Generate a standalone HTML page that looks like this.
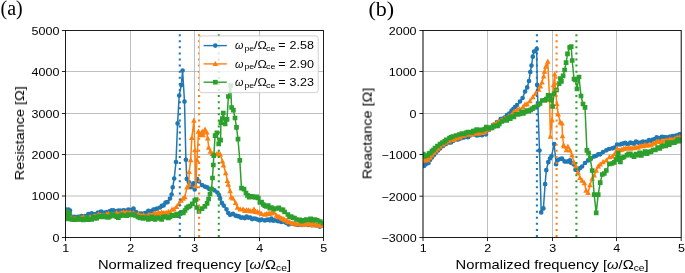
<!DOCTYPE html>
<html><head><meta charset="utf-8"><title>Figure</title>
<style>html,body{margin:0;padding:0;background:#fff;overflow:hidden}svg{display:block}
</style></head>
<body>
<svg width="685" height="273" viewBox="0 0 685 273">
<defs><clipPath id="ca"><rect x="65.5" y="30.5" width="258.0" height="207.0"/></clipPath><clipPath id="cb"><rect x="423.0" y="30.5" width="258.20000000000005" height="207.0"/></clipPath></defs>
<rect width="685" height="273" fill="#fff"/>
<g stroke="#b0b0b0" stroke-width="0.8"><line x1="65.5" y1="30.5" x2="65.5" y2="237.5"/><line x1="130.5" y1="30.5" x2="130.5" y2="237.5"/><line x1="194.5" y1="30.5" x2="194.5" y2="237.5"/><line x1="259.5" y1="30.5" x2="259.5" y2="237.5"/><line x1="323.5" y1="30.5" x2="323.5" y2="237.5"/><line x1="65.5" y1="237.5" x2="323.5" y2="237.5"/><line x1="65.5" y1="196" x2="323.5" y2="196"/><line x1="65.5" y1="154.5" x2="323.5" y2="154.5"/><line x1="65.5" y1="113.5" x2="323.5" y2="113.5"/><line x1="65.5" y1="71.5" x2="323.5" y2="71.5"/><line x1="65.5" y1="30.5" x2="323.5" y2="30.5"/></g>
<g clip-path="url(#ca)">
<polyline fill="none" stroke="#1f77b4" stroke-width="1.5" stroke-linejoin="round" points="65.5,210 67,209.5 68.5,209.5 70,210.5 71.2,216.5 72.5,218 74.25,216.82 76,217 78,216.86 80,216.5 81.67,216 83.33,216.44 85,216 86.67,215.99 88.33,214.2 90,215 91.67,213.4 93.33,215.21 95,214 98,212.5 101,211.5 104,212.5 107,212 110,211 111.67,210.37 113.33,210.31 115,211 116.67,212.12 118.33,210.59 120,210.5 121.67,211.37 123.33,210.44 125,210.5 126.67,210.86 128.33,209.59 130,210.5 131.75,209.95 133.5,208.7 136,212 138,213.81 140,213.7 141.67,213.53 143.33,213.86 145,213 146.67,212.95 148.33,210.87 150,211.5 151.7,211.17 153.4,209.5 155.2,209.29 157,208.6 160,207.5 161.8,205.93 163.6,205.4 165.55,202.58 167.5,202.2 170,198.5 171.6,194.5 172.7,187.3 174.2,178.5 176,162 177.6,123.4 179.2,95.5 181.3,85 182.6,70.5 184.5,101.6 185.9,159.8 186.8,178.9 188.8,182.1 190.7,187.2 193.3,183.4 194.7,189.5 197.1,179 199,181.5 202,185.1 204.9,186.6 207.1,187.3 209.3,189 211.5,188.8 214.4,190.3 217.4,192.5 219,195 220.1,198.3 221.9,202.9 223.7,205.6 226.5,209.3 228.3,213 230.1,214.8 232.9,213.9 235.6,215.7 237.45,216.08 239.3,216.6 241.15,217.62 243,217.5 244.8,218.03 246.6,216.6 248.45,217.61 250.3,217.5 252.15,219.09 254,218.5 255.8,218.73 257.6,219.5 259.6,220.33 261.6,219.6 264.9,220.4 266.55,219.86 268.2,219.6 269.85,220.28 271.5,218.7 273.15,220.54 274.8,220.4 278,221.2 279.65,220.55 281.3,222 282.97,221.35 284.63,221.86 286.3,222.9 288.75,224.51 291.2,223.7 293.6,223.93 296,224.5 298,225 300,224.32 302,225 304,225.02 306,224.7 308,225 310,224.61 312,225.22 314,225 316,225.47 318,225.5 319.77,226.55 321.53,225.97 323.3,225.5"/><path fill="#1f77b4" d="M63.15 210a2.35 2.35 0 1 0 4.7 0a2.35 2.35 0 1 0 -4.7 0M64.65 209.5a2.35 2.35 0 1 0 4.7 0a2.35 2.35 0 1 0 -4.7 0M66.15 209.5a2.35 2.35 0 1 0 4.7 0a2.35 2.35 0 1 0 -4.7 0M67.65 210.5a2.35 2.35 0 1 0 4.7 0a2.35 2.35 0 1 0 -4.7 0M68.85 216.5a2.35 2.35 0 1 0 4.7 0a2.35 2.35 0 1 0 -4.7 0M70.15 218a2.35 2.35 0 1 0 4.7 0a2.35 2.35 0 1 0 -4.7 0M71.9 216.82a2.35 2.35 0 1 0 4.7 0a2.35 2.35 0 1 0 -4.7 0M73.65 217a2.35 2.35 0 1 0 4.7 0a2.35 2.35 0 1 0 -4.7 0M75.65 216.86a2.35 2.35 0 1 0 4.7 0a2.35 2.35 0 1 0 -4.7 0M77.65 216.5a2.35 2.35 0 1 0 4.7 0a2.35 2.35 0 1 0 -4.7 0M79.32 216a2.35 2.35 0 1 0 4.7 0a2.35 2.35 0 1 0 -4.7 0M80.98 216.44a2.35 2.35 0 1 0 4.7 0a2.35 2.35 0 1 0 -4.7 0M82.65 216a2.35 2.35 0 1 0 4.7 0a2.35 2.35 0 1 0 -4.7 0M84.32 215.99a2.35 2.35 0 1 0 4.7 0a2.35 2.35 0 1 0 -4.7 0M85.98 214.2a2.35 2.35 0 1 0 4.7 0a2.35 2.35 0 1 0 -4.7 0M87.65 215a2.35 2.35 0 1 0 4.7 0a2.35 2.35 0 1 0 -4.7 0M89.32 213.4a2.35 2.35 0 1 0 4.7 0a2.35 2.35 0 1 0 -4.7 0M90.98 215.21a2.35 2.35 0 1 0 4.7 0a2.35 2.35 0 1 0 -4.7 0M92.65 214a2.35 2.35 0 1 0 4.7 0a2.35 2.35 0 1 0 -4.7 0M95.65 212.5a2.35 2.35 0 1 0 4.7 0a2.35 2.35 0 1 0 -4.7 0M98.65 211.5a2.35 2.35 0 1 0 4.7 0a2.35 2.35 0 1 0 -4.7 0M101.65 212.5a2.35 2.35 0 1 0 4.7 0a2.35 2.35 0 1 0 -4.7 0M104.65 212a2.35 2.35 0 1 0 4.7 0a2.35 2.35 0 1 0 -4.7 0M107.65 211a2.35 2.35 0 1 0 4.7 0a2.35 2.35 0 1 0 -4.7 0M109.32 210.37a2.35 2.35 0 1 0 4.7 0a2.35 2.35 0 1 0 -4.7 0M110.98 210.31a2.35 2.35 0 1 0 4.7 0a2.35 2.35 0 1 0 -4.7 0M112.65 211a2.35 2.35 0 1 0 4.7 0a2.35 2.35 0 1 0 -4.7 0M114.32 212.12a2.35 2.35 0 1 0 4.7 0a2.35 2.35 0 1 0 -4.7 0M115.98 210.59a2.35 2.35 0 1 0 4.7 0a2.35 2.35 0 1 0 -4.7 0M117.65 210.5a2.35 2.35 0 1 0 4.7 0a2.35 2.35 0 1 0 -4.7 0M119.32 211.37a2.35 2.35 0 1 0 4.7 0a2.35 2.35 0 1 0 -4.7 0M120.98 210.44a2.35 2.35 0 1 0 4.7 0a2.35 2.35 0 1 0 -4.7 0M122.65 210.5a2.35 2.35 0 1 0 4.7 0a2.35 2.35 0 1 0 -4.7 0M124.32 210.86a2.35 2.35 0 1 0 4.7 0a2.35 2.35 0 1 0 -4.7 0M125.98 209.59a2.35 2.35 0 1 0 4.7 0a2.35 2.35 0 1 0 -4.7 0M127.65 210.5a2.35 2.35 0 1 0 4.7 0a2.35 2.35 0 1 0 -4.7 0M129.4 209.95a2.35 2.35 0 1 0 4.7 0a2.35 2.35 0 1 0 -4.7 0M131.15 208.7a2.35 2.35 0 1 0 4.7 0a2.35 2.35 0 1 0 -4.7 0M133.65 212a2.35 2.35 0 1 0 4.7 0a2.35 2.35 0 1 0 -4.7 0M135.65 213.81a2.35 2.35 0 1 0 4.7 0a2.35 2.35 0 1 0 -4.7 0M137.65 213.7a2.35 2.35 0 1 0 4.7 0a2.35 2.35 0 1 0 -4.7 0M139.32 213.53a2.35 2.35 0 1 0 4.7 0a2.35 2.35 0 1 0 -4.7 0M140.98 213.86a2.35 2.35 0 1 0 4.7 0a2.35 2.35 0 1 0 -4.7 0M142.65 213a2.35 2.35 0 1 0 4.7 0a2.35 2.35 0 1 0 -4.7 0M144.32 212.95a2.35 2.35 0 1 0 4.7 0a2.35 2.35 0 1 0 -4.7 0M145.98 210.87a2.35 2.35 0 1 0 4.7 0a2.35 2.35 0 1 0 -4.7 0M147.65 211.5a2.35 2.35 0 1 0 4.7 0a2.35 2.35 0 1 0 -4.7 0M149.35 211.17a2.35 2.35 0 1 0 4.7 0a2.35 2.35 0 1 0 -4.7 0M151.05 209.5a2.35 2.35 0 1 0 4.7 0a2.35 2.35 0 1 0 -4.7 0M152.85 209.29a2.35 2.35 0 1 0 4.7 0a2.35 2.35 0 1 0 -4.7 0M154.65 208.6a2.35 2.35 0 1 0 4.7 0a2.35 2.35 0 1 0 -4.7 0M157.65 207.5a2.35 2.35 0 1 0 4.7 0a2.35 2.35 0 1 0 -4.7 0M159.45 205.93a2.35 2.35 0 1 0 4.7 0a2.35 2.35 0 1 0 -4.7 0M161.25 205.4a2.35 2.35 0 1 0 4.7 0a2.35 2.35 0 1 0 -4.7 0M163.2 202.58a2.35 2.35 0 1 0 4.7 0a2.35 2.35 0 1 0 -4.7 0M165.15 202.2a2.35 2.35 0 1 0 4.7 0a2.35 2.35 0 1 0 -4.7 0M167.65 198.5a2.35 2.35 0 1 0 4.7 0a2.35 2.35 0 1 0 -4.7 0M169.25 194.5a2.35 2.35 0 1 0 4.7 0a2.35 2.35 0 1 0 -4.7 0M170.35 187.3a2.35 2.35 0 1 0 4.7 0a2.35 2.35 0 1 0 -4.7 0M171.85 178.5a2.35 2.35 0 1 0 4.7 0a2.35 2.35 0 1 0 -4.7 0M173.65 162a2.35 2.35 0 1 0 4.7 0a2.35 2.35 0 1 0 -4.7 0M175.25 123.4a2.35 2.35 0 1 0 4.7 0a2.35 2.35 0 1 0 -4.7 0M176.85 95.5a2.35 2.35 0 1 0 4.7 0a2.35 2.35 0 1 0 -4.7 0M178.95 85a2.35 2.35 0 1 0 4.7 0a2.35 2.35 0 1 0 -4.7 0M180.25 70.5a2.35 2.35 0 1 0 4.7 0a2.35 2.35 0 1 0 -4.7 0M182.15 101.6a2.35 2.35 0 1 0 4.7 0a2.35 2.35 0 1 0 -4.7 0M183.55 159.8a2.35 2.35 0 1 0 4.7 0a2.35 2.35 0 1 0 -4.7 0M184.45 178.9a2.35 2.35 0 1 0 4.7 0a2.35 2.35 0 1 0 -4.7 0M186.45 182.1a2.35 2.35 0 1 0 4.7 0a2.35 2.35 0 1 0 -4.7 0M188.35 187.2a2.35 2.35 0 1 0 4.7 0a2.35 2.35 0 1 0 -4.7 0M190.95 183.4a2.35 2.35 0 1 0 4.7 0a2.35 2.35 0 1 0 -4.7 0M192.35 189.5a2.35 2.35 0 1 0 4.7 0a2.35 2.35 0 1 0 -4.7 0M194.75 179a2.35 2.35 0 1 0 4.7 0a2.35 2.35 0 1 0 -4.7 0M196.65 181.5a2.35 2.35 0 1 0 4.7 0a2.35 2.35 0 1 0 -4.7 0M199.65 185.1a2.35 2.35 0 1 0 4.7 0a2.35 2.35 0 1 0 -4.7 0M202.55 186.6a2.35 2.35 0 1 0 4.7 0a2.35 2.35 0 1 0 -4.7 0M204.75 187.3a2.35 2.35 0 1 0 4.7 0a2.35 2.35 0 1 0 -4.7 0M206.95 189a2.35 2.35 0 1 0 4.7 0a2.35 2.35 0 1 0 -4.7 0M209.15 188.8a2.35 2.35 0 1 0 4.7 0a2.35 2.35 0 1 0 -4.7 0M212.05 190.3a2.35 2.35 0 1 0 4.7 0a2.35 2.35 0 1 0 -4.7 0M215.05 192.5a2.35 2.35 0 1 0 4.7 0a2.35 2.35 0 1 0 -4.7 0M216.65 195a2.35 2.35 0 1 0 4.7 0a2.35 2.35 0 1 0 -4.7 0M217.75 198.3a2.35 2.35 0 1 0 4.7 0a2.35 2.35 0 1 0 -4.7 0M219.55 202.9a2.35 2.35 0 1 0 4.7 0a2.35 2.35 0 1 0 -4.7 0M221.35 205.6a2.35 2.35 0 1 0 4.7 0a2.35 2.35 0 1 0 -4.7 0M224.15 209.3a2.35 2.35 0 1 0 4.7 0a2.35 2.35 0 1 0 -4.7 0M225.95 213a2.35 2.35 0 1 0 4.7 0a2.35 2.35 0 1 0 -4.7 0M227.75 214.8a2.35 2.35 0 1 0 4.7 0a2.35 2.35 0 1 0 -4.7 0M230.55 213.9a2.35 2.35 0 1 0 4.7 0a2.35 2.35 0 1 0 -4.7 0M233.25 215.7a2.35 2.35 0 1 0 4.7 0a2.35 2.35 0 1 0 -4.7 0M235.1 216.08a2.35 2.35 0 1 0 4.7 0a2.35 2.35 0 1 0 -4.7 0M236.95 216.6a2.35 2.35 0 1 0 4.7 0a2.35 2.35 0 1 0 -4.7 0M238.8 217.62a2.35 2.35 0 1 0 4.7 0a2.35 2.35 0 1 0 -4.7 0M240.65 217.5a2.35 2.35 0 1 0 4.7 0a2.35 2.35 0 1 0 -4.7 0M242.45 218.03a2.35 2.35 0 1 0 4.7 0a2.35 2.35 0 1 0 -4.7 0M244.25 216.6a2.35 2.35 0 1 0 4.7 0a2.35 2.35 0 1 0 -4.7 0M246.1 217.61a2.35 2.35 0 1 0 4.7 0a2.35 2.35 0 1 0 -4.7 0M247.95 217.5a2.35 2.35 0 1 0 4.7 0a2.35 2.35 0 1 0 -4.7 0M249.8 219.09a2.35 2.35 0 1 0 4.7 0a2.35 2.35 0 1 0 -4.7 0M251.65 218.5a2.35 2.35 0 1 0 4.7 0a2.35 2.35 0 1 0 -4.7 0M253.45 218.73a2.35 2.35 0 1 0 4.7 0a2.35 2.35 0 1 0 -4.7 0M255.25 219.5a2.35 2.35 0 1 0 4.7 0a2.35 2.35 0 1 0 -4.7 0M257.25 220.33a2.35 2.35 0 1 0 4.7 0a2.35 2.35 0 1 0 -4.7 0M259.25 219.6a2.35 2.35 0 1 0 4.7 0a2.35 2.35 0 1 0 -4.7 0M262.55 220.4a2.35 2.35 0 1 0 4.7 0a2.35 2.35 0 1 0 -4.7 0M264.2 219.86a2.35 2.35 0 1 0 4.7 0a2.35 2.35 0 1 0 -4.7 0M265.85 219.6a2.35 2.35 0 1 0 4.7 0a2.35 2.35 0 1 0 -4.7 0M267.5 220.28a2.35 2.35 0 1 0 4.7 0a2.35 2.35 0 1 0 -4.7 0M269.15 218.7a2.35 2.35 0 1 0 4.7 0a2.35 2.35 0 1 0 -4.7 0M270.8 220.54a2.35 2.35 0 1 0 4.7 0a2.35 2.35 0 1 0 -4.7 0M272.45 220.4a2.35 2.35 0 1 0 4.7 0a2.35 2.35 0 1 0 -4.7 0M275.65 221.2a2.35 2.35 0 1 0 4.7 0a2.35 2.35 0 1 0 -4.7 0M277.3 220.55a2.35 2.35 0 1 0 4.7 0a2.35 2.35 0 1 0 -4.7 0M278.95 222a2.35 2.35 0 1 0 4.7 0a2.35 2.35 0 1 0 -4.7 0M280.62 221.35a2.35 2.35 0 1 0 4.7 0a2.35 2.35 0 1 0 -4.7 0M282.28 221.86a2.35 2.35 0 1 0 4.7 0a2.35 2.35 0 1 0 -4.7 0M283.95 222.9a2.35 2.35 0 1 0 4.7 0a2.35 2.35 0 1 0 -4.7 0M286.4 224.51a2.35 2.35 0 1 0 4.7 0a2.35 2.35 0 1 0 -4.7 0M288.85 223.7a2.35 2.35 0 1 0 4.7 0a2.35 2.35 0 1 0 -4.7 0M291.25 223.93a2.35 2.35 0 1 0 4.7 0a2.35 2.35 0 1 0 -4.7 0M293.65 224.5a2.35 2.35 0 1 0 4.7 0a2.35 2.35 0 1 0 -4.7 0M295.65 225a2.35 2.35 0 1 0 4.7 0a2.35 2.35 0 1 0 -4.7 0M297.65 224.32a2.35 2.35 0 1 0 4.7 0a2.35 2.35 0 1 0 -4.7 0M299.65 225a2.35 2.35 0 1 0 4.7 0a2.35 2.35 0 1 0 -4.7 0M301.65 225.02a2.35 2.35 0 1 0 4.7 0a2.35 2.35 0 1 0 -4.7 0M303.65 224.7a2.35 2.35 0 1 0 4.7 0a2.35 2.35 0 1 0 -4.7 0M305.65 225a2.35 2.35 0 1 0 4.7 0a2.35 2.35 0 1 0 -4.7 0M307.65 224.61a2.35 2.35 0 1 0 4.7 0a2.35 2.35 0 1 0 -4.7 0M309.65 225.22a2.35 2.35 0 1 0 4.7 0a2.35 2.35 0 1 0 -4.7 0M311.65 225a2.35 2.35 0 1 0 4.7 0a2.35 2.35 0 1 0 -4.7 0M313.65 225.47a2.35 2.35 0 1 0 4.7 0a2.35 2.35 0 1 0 -4.7 0M315.65 225.5a2.35 2.35 0 1 0 4.7 0a2.35 2.35 0 1 0 -4.7 0M317.42 226.55a2.35 2.35 0 1 0 4.7 0a2.35 2.35 0 1 0 -4.7 0M319.18 225.97a2.35 2.35 0 1 0 4.7 0a2.35 2.35 0 1 0 -4.7 0M320.95 225.5a2.35 2.35 0 1 0 4.7 0a2.35 2.35 0 1 0 -4.7 0"/>
<polyline fill="none" stroke="#ff7f0e" stroke-width="1.5" stroke-linejoin="round" points="65.5,212.5 67,212 68.5,213 70,214 71.2,218 73.1,219.37 75,218.5 76.67,219.26 78.33,219.44 80,218 81.67,218.28 83.33,216.79 85,217.5 86.67,218.27 88.33,218.37 90,217 91.67,217.72 93.33,216.51 95,216 96.67,216.22 98.33,214.58 100,215 101.67,216.03 103.33,215.52 105,215.5 106.67,214.61 108.33,213.7 110,214.5 111.67,215.25 113.33,215.44 115,214 116.67,212.76 118.33,214.45 120,213.5 121.67,213.1 123.33,212.26 125,213 126.67,212.33 128.33,213.43 130,212.6 131.67,214.2 133.33,212.68 135,214.5 136.67,215.13 138.33,213.98 140,215.5 141.67,215.98 143.33,214.89 145,216.24 146.67,216.42 148.33,215.1 150,215 151.67,216.05 153.33,214.01 155,213.15 156.67,214.26 158.33,212.53 160,213.5 161.67,212.55 163.33,212.93 165,213 166.67,213.09 168.33,211.71 170,212.4 172,209.61 174,209.2 176.5,206.7 179,203.5 181,200.5 183,198.5 184.8,197.1 187,187.3 188.8,184.7 189.2,171.9 190.7,160 191.8,137.9 193.9,120.5 194.9,150 195.8,186 197,160 198.5,131.5 200.4,135 202.2,131.5 203.1,135 205,129.6 206.8,132.4 207.7,138.3 208.7,147.5 210.4,151.6 212.3,153.9 214.5,154 216.9,153.9 218.5,154 220.2,154.3 222.4,161.2 223.5,165.3 225.7,173 227.4,180.9 228.3,184.6 230.1,191 231.1,197.4 232.9,198.3 235.6,202.9 237.5,207.5 240.2,209.3 243,209.3 244.8,210.71 246.6,210.2 248.45,210.17 250.3,211.1 252.15,211.39 254,209.3 255.8,211.68 257.6,212 259.6,212.58 261.6,213.8 264.9,214.6 266.55,214.1 268.2,213.8 269.85,213.45 271.5,213 273.9,212.2 276.4,215.5 278.05,216.67 279.7,217.1 281.35,218.15 283,218.7 284.65,219.7 286.3,220.4 287.95,221.51 289.6,222 292.05,223.6 294.5,222.9 296.7,224.3 298.67,224.32 300.63,224.12 302.6,224.3 304.53,224.87 306.47,223.62 308.4,224.3 310.37,223.55 312.33,225.08 314.3,223.6 317.2,225 319.4,225.45 321.6,225.8 323.3,225.5"/><path fill="#ff7f0e" d="M65.5 209.5L68.3 214.7L62.7 214.7ZM67 209L69.8 214.2L64.2 214.2ZM68.5 210L71.3 215.2L65.7 215.2ZM70 211L72.8 216.2L67.2 216.2ZM71.2 215L74 220.2L68.4 220.2ZM73.1 216.37L75.9 221.57L70.3 221.57ZM75 215.5L77.8 220.7L72.2 220.7ZM76.67 216.26L79.47 221.46L73.87 221.46ZM78.33 216.44L81.13 221.64L75.53 221.64ZM80 215L82.8 220.2L77.2 220.2ZM81.67 215.28L84.47 220.48L78.87 220.48ZM83.33 213.79L86.13 218.99L80.53 218.99ZM85 214.5L87.8 219.7L82.2 219.7ZM86.67 215.27L89.47 220.47L83.87 220.47ZM88.33 215.37L91.13 220.57L85.53 220.57ZM90 214L92.8 219.2L87.2 219.2ZM91.67 214.72L94.47 219.92L88.87 219.92ZM93.33 213.51L96.13 218.71L90.53 218.71ZM95 213L97.8 218.2L92.2 218.2ZM96.67 213.22L99.47 218.42L93.87 218.42ZM98.33 211.58L101.13 216.78L95.53 216.78ZM100 212L102.8 217.2L97.2 217.2ZM101.67 213.03L104.47 218.23L98.87 218.23ZM103.33 212.52L106.13 217.72L100.53 217.72ZM105 212.5L107.8 217.7L102.2 217.7ZM106.67 211.61L109.47 216.81L103.87 216.81ZM108.33 210.7L111.13 215.9L105.53 215.9ZM110 211.5L112.8 216.7L107.2 216.7ZM111.67 212.25L114.47 217.45L108.87 217.45ZM113.33 212.44L116.13 217.64L110.53 217.64ZM115 211L117.8 216.2L112.2 216.2ZM116.67 209.76L119.47 214.96L113.87 214.96ZM118.33 211.45L121.13 216.65L115.53 216.65ZM120 210.5L122.8 215.7L117.2 215.7ZM121.67 210.1L124.47 215.3L118.87 215.3ZM123.33 209.26L126.13 214.46L120.53 214.46ZM125 210L127.8 215.2L122.2 215.2ZM126.67 209.33L129.47 214.53L123.87 214.53ZM128.33 210.43L131.13 215.63L125.53 215.63ZM130 209.6L132.8 214.8L127.2 214.8ZM131.67 211.2L134.47 216.4L128.87 216.4ZM133.33 209.68L136.13 214.88L130.53 214.88ZM135 211.5L137.8 216.7L132.2 216.7ZM136.67 212.13L139.47 217.33L133.87 217.33ZM138.33 210.98L141.13 216.18L135.53 216.18ZM140 212.5L142.8 217.7L137.2 217.7ZM141.67 212.98L144.47 218.18L138.87 218.18ZM143.33 211.89L146.13 217.09L140.53 217.09ZM145 213.24L147.8 218.44L142.2 218.44ZM146.67 213.42L149.47 218.62L143.87 218.62ZM148.33 212.1L151.13 217.3L145.53 217.3ZM150 212L152.8 217.2L147.2 217.2ZM151.67 213.05L154.47 218.25L148.87 218.25ZM153.33 211.01L156.13 216.21L150.53 216.21ZM155 210.15L157.8 215.35L152.2 215.35ZM156.67 211.26L159.47 216.46L153.87 216.46ZM158.33 209.53L161.13 214.73L155.53 214.73ZM160 210.5L162.8 215.7L157.2 215.7ZM161.67 209.55L164.47 214.75L158.87 214.75ZM163.33 209.93L166.13 215.13L160.53 215.13ZM165 210L167.8 215.2L162.2 215.2ZM166.67 210.09L169.47 215.29L163.87 215.29ZM168.33 208.71L171.13 213.91L165.53 213.91ZM170 209.4L172.8 214.6L167.2 214.6ZM172 206.61L174.8 211.81L169.2 211.81ZM174 206.2L176.8 211.4L171.2 211.4ZM176.5 203.7L179.3 208.9L173.7 208.9ZM179 200.5L181.8 205.7L176.2 205.7ZM181 197.5L183.8 202.7L178.2 202.7ZM183 195.5L185.8 200.7L180.2 200.7ZM184.8 194.1L187.6 199.3L182 199.3ZM187 184.3L189.8 189.5L184.2 189.5ZM188.8 181.7L191.6 186.9L186 186.9ZM189.2 168.9L192 174.1L186.4 174.1ZM190.7 157L193.5 162.2L187.9 162.2ZM191.8 134.9L194.6 140.1L189 140.1ZM193.9 117.5L196.7 122.7L191.1 122.7ZM194.9 147L197.7 152.2L192.1 152.2ZM195.8 183L198.6 188.2L193 188.2ZM197 157L199.8 162.2L194.2 162.2ZM198.5 128.5L201.3 133.7L195.7 133.7ZM200.4 132L203.2 137.2L197.6 137.2ZM202.2 128.5L205 133.7L199.4 133.7ZM203.1 132L205.9 137.2L200.3 137.2ZM205 126.6L207.8 131.8L202.2 131.8ZM206.8 129.4L209.6 134.6L204 134.6ZM207.7 135.3L210.5 140.5L204.9 140.5ZM208.7 144.5L211.5 149.7L205.9 149.7ZM210.4 148.6L213.2 153.8L207.6 153.8ZM212.3 150.9L215.1 156.1L209.5 156.1ZM214.5 151L217.3 156.2L211.7 156.2ZM216.9 150.9L219.7 156.1L214.1 156.1ZM218.5 151L221.3 156.2L215.7 156.2ZM220.2 151.3L223 156.5L217.4 156.5ZM222.4 158.2L225.2 163.4L219.6 163.4ZM223.5 162.3L226.3 167.5L220.7 167.5ZM225.7 170L228.5 175.2L222.9 175.2ZM227.4 177.9L230.2 183.1L224.6 183.1ZM228.3 181.6L231.1 186.8L225.5 186.8ZM230.1 188L232.9 193.2L227.3 193.2ZM231.1 194.4L233.9 199.6L228.3 199.6ZM232.9 195.3L235.7 200.5L230.1 200.5ZM235.6 199.9L238.4 205.1L232.8 205.1ZM237.5 204.5L240.3 209.7L234.7 209.7ZM240.2 206.3L243 211.5L237.4 211.5ZM243 206.3L245.8 211.5L240.2 211.5ZM244.8 207.71L247.6 212.91L242 212.91ZM246.6 207.2L249.4 212.4L243.8 212.4ZM248.45 207.17L251.25 212.37L245.65 212.37ZM250.3 208.1L253.1 213.3L247.5 213.3ZM252.15 208.39L254.95 213.59L249.35 213.59ZM254 206.3L256.8 211.5L251.2 211.5ZM255.8 208.68L258.6 213.88L253 213.88ZM257.6 209L260.4 214.2L254.8 214.2ZM259.6 209.58L262.4 214.78L256.8 214.78ZM261.6 210.8L264.4 216L258.8 216ZM264.9 211.6L267.7 216.8L262.1 216.8ZM266.55 211.1L269.35 216.3L263.75 216.3ZM268.2 210.8L271 216L265.4 216ZM269.85 210.45L272.65 215.65L267.05 215.65ZM271.5 210L274.3 215.2L268.7 215.2ZM273.9 209.2L276.7 214.4L271.1 214.4ZM276.4 212.5L279.2 217.7L273.6 217.7ZM278.05 213.67L280.85 218.87L275.25 218.87ZM279.7 214.1L282.5 219.3L276.9 219.3ZM281.35 215.15L284.15 220.35L278.55 220.35ZM283 215.7L285.8 220.9L280.2 220.9ZM284.65 216.7L287.45 221.9L281.85 221.9ZM286.3 217.4L289.1 222.6L283.5 222.6ZM287.95 218.51L290.75 223.71L285.15 223.71ZM289.6 219L292.4 224.2L286.8 224.2ZM292.05 220.6L294.85 225.8L289.25 225.8ZM294.5 219.9L297.3 225.1L291.7 225.1ZM296.7 221.3L299.5 226.5L293.9 226.5ZM298.67 221.32L301.47 226.52L295.87 226.52ZM300.63 221.12L303.43 226.32L297.83 226.32ZM302.6 221.3L305.4 226.5L299.8 226.5ZM304.53 221.87L307.33 227.07L301.73 227.07ZM306.47 220.62L309.27 225.82L303.67 225.82ZM308.4 221.3L311.2 226.5L305.6 226.5ZM310.37 220.55L313.17 225.75L307.57 225.75ZM312.33 222.08L315.13 227.28L309.53 227.28ZM314.3 220.6L317.1 225.8L311.5 225.8ZM317.2 222L320 227.2L314.4 227.2ZM319.4 222.45L322.2 227.65L316.6 227.65ZM321.6 222.8L324.4 228L318.8 228ZM323.3 222.5L326.1 227.7L320.5 227.7Z"/>
<polyline fill="none" stroke="#2ca02c" stroke-width="1.5" stroke-linejoin="round" points="65.5,211 66.5,218 67.5,213 68.5,219 69.5,214 70.5,219 72,219.5 74,219.67 76,219.5 78,217.74 80,219.5 81.67,219.19 83.33,219.79 85,219.5 86.67,217.61 88.33,219.58 90,219 91.67,219.31 93.33,217.08 95,218.5 96.67,218.13 98.33,216.71 100,216 101.67,216.81 103.33,215.8 105,216.5 106.67,217.25 108.33,217.36 110,216.5 111.67,214.61 113.33,214.58 115,216 116.67,216.63 118.33,217.67 120,216 121.67,214.94 123.33,215.51 125,215.5 126.67,215.67 128.33,214.52 130,215 131.67,214.68 133.33,214.66 135,215.5 138,217 140,218 141.67,217.61 143.33,218.51 145,217.53 146.67,217.89 148.33,219.4 150,218.5 151.67,216.8 153.33,218.75 155,219.35 156.67,217.82 158.33,217.5 160,218.5 161.67,219.34 163.33,217.06 165,216.62 166.67,217.27 168.33,217.96 170,217 171.67,215.13 173.33,215.49 175,215.7 176.67,214.43 178.33,215.57 180,213.7 181.67,212.41 183.33,212.85 185,210.5 186.67,207.81 188.33,206.91 190,206 192.35,203.79 194.7,200.5 196.1,199.5 197,207.5 199,211.5 202,208.6 204.9,206.4 207.1,203.4 208.6,199 210,194 211.5,189 212.5,178 213.3,165 213.8,155.7 215.1,135.6 216.9,132.8 218.7,143.8 220.6,140.1 220.9,122.7 222.4,118.5 223.3,113 225.1,124 227,119.4 228.4,96.5 230.6,85.5 231.6,107.5 233.4,110.2 235,118 236.5,127.3 238,139.2 239.8,160.3 241.5,188.2 244,189.2 246,193 247.5,195.3 249.25,197.19 251,196.3 252.95,196.72 254.9,197.5 256.6,196.76 258.3,198 259.9,202.5 261.55,202.14 263.2,204.5 264.85,205.61 266.5,206.5 268.17,205.72 269.83,208.27 271.5,207.5 273.95,209.22 276.4,208.5 278.85,207.86 281.3,209.5 282.95,209.95 284.6,212 287.9,214.5 289.55,216.61 291.2,216.5 292.85,217.76 294.5,218 296.7,219.5 299.7,219.8 301.85,221.15 304,220.3 306.2,219.59 308.4,220 310.6,218.82 312.8,220.3 315,219.55 317.2,220.3 320.2,221.5 323.3,223"/><path fill="#2ca02c" d="M63.15 208.65h4.7v4.7h-4.7ZM64.15 215.65h4.7v4.7h-4.7ZM65.15 210.65h4.7v4.7h-4.7ZM66.15 216.65h4.7v4.7h-4.7ZM67.15 211.65h4.7v4.7h-4.7ZM68.15 216.65h4.7v4.7h-4.7ZM69.65 217.15h4.7v4.7h-4.7ZM71.65 217.32h4.7v4.7h-4.7ZM73.65 217.15h4.7v4.7h-4.7ZM75.65 215.39h4.7v4.7h-4.7ZM77.65 217.15h4.7v4.7h-4.7ZM79.32 216.84h4.7v4.7h-4.7ZM80.98 217.44h4.7v4.7h-4.7ZM82.65 217.15h4.7v4.7h-4.7ZM84.32 215.26h4.7v4.7h-4.7ZM85.98 217.23h4.7v4.7h-4.7ZM87.65 216.65h4.7v4.7h-4.7ZM89.32 216.96h4.7v4.7h-4.7ZM90.98 214.73h4.7v4.7h-4.7ZM92.65 216.15h4.7v4.7h-4.7ZM94.32 215.78h4.7v4.7h-4.7ZM95.98 214.36h4.7v4.7h-4.7ZM97.65 213.65h4.7v4.7h-4.7ZM99.32 214.46h4.7v4.7h-4.7ZM100.98 213.45h4.7v4.7h-4.7ZM102.65 214.15h4.7v4.7h-4.7ZM104.32 214.9h4.7v4.7h-4.7ZM105.98 215.01h4.7v4.7h-4.7ZM107.65 214.15h4.7v4.7h-4.7ZM109.32 212.26h4.7v4.7h-4.7ZM110.98 212.23h4.7v4.7h-4.7ZM112.65 213.65h4.7v4.7h-4.7ZM114.32 214.28h4.7v4.7h-4.7ZM115.98 215.32h4.7v4.7h-4.7ZM117.65 213.65h4.7v4.7h-4.7ZM119.32 212.59h4.7v4.7h-4.7ZM120.98 213.16h4.7v4.7h-4.7ZM122.65 213.15h4.7v4.7h-4.7ZM124.32 213.32h4.7v4.7h-4.7ZM125.98 212.17h4.7v4.7h-4.7ZM127.65 212.65h4.7v4.7h-4.7ZM129.32 212.33h4.7v4.7h-4.7ZM130.98 212.31h4.7v4.7h-4.7ZM132.65 213.15h4.7v4.7h-4.7ZM135.65 214.65h4.7v4.7h-4.7ZM137.65 215.65h4.7v4.7h-4.7ZM139.32 215.26h4.7v4.7h-4.7ZM140.98 216.16h4.7v4.7h-4.7ZM142.65 215.18h4.7v4.7h-4.7ZM144.32 215.54h4.7v4.7h-4.7ZM145.98 217.05h4.7v4.7h-4.7ZM147.65 216.15h4.7v4.7h-4.7ZM149.32 214.45h4.7v4.7h-4.7ZM150.98 216.4h4.7v4.7h-4.7ZM152.65 217h4.7v4.7h-4.7ZM154.32 215.47h4.7v4.7h-4.7ZM155.98 215.15h4.7v4.7h-4.7ZM157.65 216.15h4.7v4.7h-4.7ZM159.32 216.99h4.7v4.7h-4.7ZM160.98 214.71h4.7v4.7h-4.7ZM162.65 214.27h4.7v4.7h-4.7ZM164.32 214.92h4.7v4.7h-4.7ZM165.98 215.61h4.7v4.7h-4.7ZM167.65 214.65h4.7v4.7h-4.7ZM169.32 212.78h4.7v4.7h-4.7ZM170.98 213.14h4.7v4.7h-4.7ZM172.65 213.35h4.7v4.7h-4.7ZM174.32 212.08h4.7v4.7h-4.7ZM175.98 213.22h4.7v4.7h-4.7ZM177.65 211.35h4.7v4.7h-4.7ZM179.32 210.06h4.7v4.7h-4.7ZM180.98 210.5h4.7v4.7h-4.7ZM182.65 208.15h4.7v4.7h-4.7ZM184.32 205.46h4.7v4.7h-4.7ZM185.98 204.56h4.7v4.7h-4.7ZM187.65 203.65h4.7v4.7h-4.7ZM190 201.44h4.7v4.7h-4.7ZM192.35 198.15h4.7v4.7h-4.7ZM193.75 197.15h4.7v4.7h-4.7ZM194.65 205.15h4.7v4.7h-4.7ZM196.65 209.15h4.7v4.7h-4.7ZM199.65 206.25h4.7v4.7h-4.7ZM202.55 204.05h4.7v4.7h-4.7ZM204.75 201.05h4.7v4.7h-4.7ZM206.25 196.65h4.7v4.7h-4.7ZM207.65 191.65h4.7v4.7h-4.7ZM209.15 186.65h4.7v4.7h-4.7ZM210.15 175.65h4.7v4.7h-4.7ZM210.95 162.65h4.7v4.7h-4.7ZM211.45 153.35h4.7v4.7h-4.7ZM212.75 133.25h4.7v4.7h-4.7ZM214.55 130.45h4.7v4.7h-4.7ZM216.35 141.45h4.7v4.7h-4.7ZM218.25 137.75h4.7v4.7h-4.7ZM218.55 120.35h4.7v4.7h-4.7ZM220.05 116.15h4.7v4.7h-4.7ZM220.95 110.65h4.7v4.7h-4.7ZM222.75 121.65h4.7v4.7h-4.7ZM224.65 117.05h4.7v4.7h-4.7ZM226.05 94.15h4.7v4.7h-4.7ZM228.25 83.15h4.7v4.7h-4.7ZM229.25 105.15h4.7v4.7h-4.7ZM231.05 107.85h4.7v4.7h-4.7ZM232.65 115.65h4.7v4.7h-4.7ZM234.15 124.95h4.7v4.7h-4.7ZM235.65 136.85h4.7v4.7h-4.7ZM237.45 157.95h4.7v4.7h-4.7ZM239.15 185.85h4.7v4.7h-4.7ZM241.65 186.85h4.7v4.7h-4.7ZM243.65 190.65h4.7v4.7h-4.7ZM245.15 192.95h4.7v4.7h-4.7ZM246.9 194.84h4.7v4.7h-4.7ZM248.65 193.95h4.7v4.7h-4.7ZM250.6 194.37h4.7v4.7h-4.7ZM252.55 195.15h4.7v4.7h-4.7ZM254.25 194.41h4.7v4.7h-4.7ZM255.95 195.65h4.7v4.7h-4.7ZM257.55 200.15h4.7v4.7h-4.7ZM259.2 199.79h4.7v4.7h-4.7ZM260.85 202.15h4.7v4.7h-4.7ZM262.5 203.26h4.7v4.7h-4.7ZM264.15 204.15h4.7v4.7h-4.7ZM265.82 203.37h4.7v4.7h-4.7ZM267.48 205.92h4.7v4.7h-4.7ZM269.15 205.15h4.7v4.7h-4.7ZM271.6 206.87h4.7v4.7h-4.7ZM274.05 206.15h4.7v4.7h-4.7ZM276.5 205.51h4.7v4.7h-4.7ZM278.95 207.15h4.7v4.7h-4.7ZM280.6 207.6h4.7v4.7h-4.7ZM282.25 209.65h4.7v4.7h-4.7ZM285.55 212.15h4.7v4.7h-4.7ZM287.2 214.26h4.7v4.7h-4.7ZM288.85 214.15h4.7v4.7h-4.7ZM290.5 215.41h4.7v4.7h-4.7ZM292.15 215.65h4.7v4.7h-4.7ZM294.35 217.15h4.7v4.7h-4.7ZM297.35 217.45h4.7v4.7h-4.7ZM299.5 218.8h4.7v4.7h-4.7ZM301.65 217.95h4.7v4.7h-4.7ZM303.85 217.24h4.7v4.7h-4.7ZM306.05 217.65h4.7v4.7h-4.7ZM308.25 216.47h4.7v4.7h-4.7ZM310.45 217.95h4.7v4.7h-4.7ZM312.65 217.2h4.7v4.7h-4.7ZM314.85 217.95h4.7v4.7h-4.7ZM317.85 219.15h4.7v4.7h-4.7ZM320.95 220.65h4.7v4.7h-4.7Z"/>
<line x1="179.8" y1="237.0" x2="179.8" y2="30.5" stroke="#1f77b4" stroke-width="2.1" stroke-dasharray="2 4.085"/>
<line x1="199.1" y1="237.0" x2="199.1" y2="30.5" stroke="#ff7f0e" stroke-width="2.1" stroke-dasharray="2 4.085"/>
<line x1="218.8" y1="237.0" x2="218.8" y2="30.5" stroke="#2ca02c" stroke-width="2.1" stroke-dasharray="2 4.085"/>
</g>
<rect x="65.5" y="30.5" width="258.0" height="207.0" fill="none" stroke="#000" stroke-width="0.85"/><path d="M65.5 237.5v3.6M130.5 237.5v3.6M194.5 237.5v3.6M259.5 237.5v3.6M323.5 237.5v3.6M65.5 237.5h-3.6M65.5 196h-3.6M65.5 154.5h-3.6M65.5 113.5h-3.6M65.5 71.5h-3.6M65.5 30.5h-3.6" stroke="#000" stroke-width="0.85"/>
<g font-family="Liberation Sans, sans-serif" font-size="10.8" fill="#000">
<rect x="199.5" y="35.9" width="118.7" height="56.8" rx="2.5" fill="#fff" fill-opacity="0.8" stroke="#cccccc" stroke-width="0.9"/>
<line x1="203.6" y1="45.6" x2="226.8" y2="45.6" stroke="#1f77b4" stroke-width="1.4"/>
<path fill="#1f77b4" d="M212.95 45.6a2.35 2.35 0 1 0 4.7 0a2.35 2.35 0 1 0 -4.7 0"/>
<g style="filter:grayscale(1)"><text transform="translate(235,49.4) scale(1.0,1)" font-style="italic">ω</text><text transform="translate(244.4,51) scale(1.16,1)" font-size="7.6">pe</text><text transform="translate(254,49.4) scale(1.16,1)">/</text><text transform="translate(257.4,49.4) scale(1.16,1)">Ω</text><text transform="translate(266,51) scale(1.16,1)" font-size="7.6">ce</text><text transform="translate(278.2,49.4) scale(1.16,1)">=</text><text transform="translate(289.6,49.4) scale(1.16,1)">2.58</text></g>
<line x1="203.6" y1="63.9" x2="226.8" y2="63.9" stroke="#ff7f0e" stroke-width="1.4"/>
<path fill="#ff7f0e" d="M215.3 60.9L218.1 66.1L212.5 66.1Z"/>
<g style="filter:grayscale(1)"><text transform="translate(235,67.7) scale(1.0,1)" font-style="italic">ω</text><text transform="translate(244.4,69.3) scale(1.16,1)" font-size="7.6">pe</text><text transform="translate(254,67.7) scale(1.16,1)">/</text><text transform="translate(257.4,67.7) scale(1.16,1)">Ω</text><text transform="translate(266,69.3) scale(1.16,1)" font-size="7.6">ce</text><text transform="translate(278.2,67.7) scale(1.16,1)">=</text><text transform="translate(289.6,67.7) scale(1.16,1)">2.90</text></g>
<line x1="203.6" y1="82.2" x2="226.8" y2="82.2" stroke="#2ca02c" stroke-width="1.4"/>
<path fill="#2ca02c" d="M212.95 79.85h4.7v4.7h-4.7Z"/>
<g style="filter:grayscale(1)"><text transform="translate(235,86) scale(1.0,1)" font-style="italic">ω</text><text transform="translate(244.4,87.6) scale(1.16,1)" font-size="7.6">pe</text><text transform="translate(254,86) scale(1.16,1)">/</text><text transform="translate(257.4,86) scale(1.16,1)">Ω</text><text transform="translate(266,87.6) scale(1.16,1)" font-size="7.6">ce</text><text transform="translate(278.2,86) scale(1.16,1)">=</text><text transform="translate(289.6,86) scale(1.16,1)">3.23</text></g>
</g>
<g stroke="#b0b0b0" stroke-width="0.8"><line x1="423" y1="30.5" x2="423" y2="237.5"/><line x1="487.5" y1="30.5" x2="487.5" y2="237.5"/><line x1="552.5" y1="30.5" x2="552.5" y2="237.5"/><line x1="616.5" y1="30.5" x2="616.5" y2="237.5"/><line x1="681.2" y1="30.5" x2="681.2" y2="237.5"/><line x1="423.0" y1="237.5" x2="681.2" y2="237.5"/><line x1="423.0" y1="196.2" x2="681.2" y2="196.2"/><line x1="423.0" y1="154.5" x2="681.2" y2="154.5"/><line x1="423.0" y1="113.5" x2="681.2" y2="113.5"/><line x1="423.0" y1="71.5" x2="681.2" y2="71.5"/><line x1="423.0" y1="30.5" x2="681.2" y2="30.5"/></g>
<g clip-path="url(#cb)">
<polyline fill="none" stroke="#1f77b4" stroke-width="1.5" stroke-linejoin="round" points="423.2,163 424,166 425.5,164.5 427,163.5 428.5,163 430,160 432,157.5 434,155 436,152.5 438,150.5 440,148.5 443,146 446,144 449,142.5 451,142.51 453,141 454.67,139.91 456.33,139.6 458,139.5 460,138.62 462,137.96 464,137.5 466,136.6 468,137.26 470,135.5 471.67,134.27 473.33,133.55 475,134.5 476.67,135.49 478.33,135.15 480,134 482,135.27 484,134 486,134.3 489,130 491,127.43 493,125.2 495,124.77 497,122 498.8,122.04 500.6,119.14 502.4,118.8 504.7,117.54 507,115 509.3,113.68 511.6,110.6 513.3,109.22 515,107 517,105 520,101.5 522.6,98 525.1,91.5 527.2,87.4 529,81 530.3,72 531.5,65.6 532.8,56.7 534.1,51.5 536.7,49 537.2,84.9 539.5,150.5 541.2,212.4 543.4,208.4 545.1,184.2 546.3,170.2 548.3,162.2 550,158.5 551.5,156.1 554.2,144.1 556.1,164.2 557.6,160.3 560,159 562,158.7 564.6,161.4 567.9,161.4 570,160.4 571.2,163 574,164.4 575.5,169.7 578,170.5 580,168 582.1,166.5 585,163 588.1,160.4 591,158.5 594.2,156.4 596.2,155.75 598.2,154.45 600.2,154.3 603,152 606.3,150.3 609,149 612.3,148.3 614.5,147.5 617.1,144.5 620,144.5 621.75,143.91 623.5,143.44 625.25,142.85 627,143.8 628.67,143.76 630.33,142.71 632,143 634,143.64 636,141.48 638,142.5 639.67,143.22 641.33,142.34 643,141.5 645,142.17 647,141.66 649,140.2 651,140.84 653,139.6 655,139 656.67,137.4 658.33,138.97 660,138 662,136.91 664,137.01 666,137.3 667.67,137.49 669.33,136.9 671,136.6 672.67,136.04 674.33,137.07 676,135.6 677.67,135.46 679.33,134.32 681,134.3"/><path fill="#1f77b4" d="M420.85 163a2.35 2.35 0 1 0 4.7 0a2.35 2.35 0 1 0 -4.7 0M421.65 166a2.35 2.35 0 1 0 4.7 0a2.35 2.35 0 1 0 -4.7 0M423.15 164.5a2.35 2.35 0 1 0 4.7 0a2.35 2.35 0 1 0 -4.7 0M424.65 163.5a2.35 2.35 0 1 0 4.7 0a2.35 2.35 0 1 0 -4.7 0M426.15 163a2.35 2.35 0 1 0 4.7 0a2.35 2.35 0 1 0 -4.7 0M427.65 160a2.35 2.35 0 1 0 4.7 0a2.35 2.35 0 1 0 -4.7 0M429.65 157.5a2.35 2.35 0 1 0 4.7 0a2.35 2.35 0 1 0 -4.7 0M431.65 155a2.35 2.35 0 1 0 4.7 0a2.35 2.35 0 1 0 -4.7 0M433.65 152.5a2.35 2.35 0 1 0 4.7 0a2.35 2.35 0 1 0 -4.7 0M435.65 150.5a2.35 2.35 0 1 0 4.7 0a2.35 2.35 0 1 0 -4.7 0M437.65 148.5a2.35 2.35 0 1 0 4.7 0a2.35 2.35 0 1 0 -4.7 0M440.65 146a2.35 2.35 0 1 0 4.7 0a2.35 2.35 0 1 0 -4.7 0M443.65 144a2.35 2.35 0 1 0 4.7 0a2.35 2.35 0 1 0 -4.7 0M446.65 142.5a2.35 2.35 0 1 0 4.7 0a2.35 2.35 0 1 0 -4.7 0M448.65 142.51a2.35 2.35 0 1 0 4.7 0a2.35 2.35 0 1 0 -4.7 0M450.65 141a2.35 2.35 0 1 0 4.7 0a2.35 2.35 0 1 0 -4.7 0M452.32 139.91a2.35 2.35 0 1 0 4.7 0a2.35 2.35 0 1 0 -4.7 0M453.98 139.6a2.35 2.35 0 1 0 4.7 0a2.35 2.35 0 1 0 -4.7 0M455.65 139.5a2.35 2.35 0 1 0 4.7 0a2.35 2.35 0 1 0 -4.7 0M457.65 138.62a2.35 2.35 0 1 0 4.7 0a2.35 2.35 0 1 0 -4.7 0M459.65 137.96a2.35 2.35 0 1 0 4.7 0a2.35 2.35 0 1 0 -4.7 0M461.65 137.5a2.35 2.35 0 1 0 4.7 0a2.35 2.35 0 1 0 -4.7 0M463.65 136.6a2.35 2.35 0 1 0 4.7 0a2.35 2.35 0 1 0 -4.7 0M465.65 137.26a2.35 2.35 0 1 0 4.7 0a2.35 2.35 0 1 0 -4.7 0M467.65 135.5a2.35 2.35 0 1 0 4.7 0a2.35 2.35 0 1 0 -4.7 0M469.32 134.27a2.35 2.35 0 1 0 4.7 0a2.35 2.35 0 1 0 -4.7 0M470.98 133.55a2.35 2.35 0 1 0 4.7 0a2.35 2.35 0 1 0 -4.7 0M472.65 134.5a2.35 2.35 0 1 0 4.7 0a2.35 2.35 0 1 0 -4.7 0M474.32 135.49a2.35 2.35 0 1 0 4.7 0a2.35 2.35 0 1 0 -4.7 0M475.98 135.15a2.35 2.35 0 1 0 4.7 0a2.35 2.35 0 1 0 -4.7 0M477.65 134a2.35 2.35 0 1 0 4.7 0a2.35 2.35 0 1 0 -4.7 0M479.65 135.27a2.35 2.35 0 1 0 4.7 0a2.35 2.35 0 1 0 -4.7 0M481.65 134a2.35 2.35 0 1 0 4.7 0a2.35 2.35 0 1 0 -4.7 0M483.65 134.3a2.35 2.35 0 1 0 4.7 0a2.35 2.35 0 1 0 -4.7 0M486.65 130a2.35 2.35 0 1 0 4.7 0a2.35 2.35 0 1 0 -4.7 0M488.65 127.43a2.35 2.35 0 1 0 4.7 0a2.35 2.35 0 1 0 -4.7 0M490.65 125.2a2.35 2.35 0 1 0 4.7 0a2.35 2.35 0 1 0 -4.7 0M492.65 124.77a2.35 2.35 0 1 0 4.7 0a2.35 2.35 0 1 0 -4.7 0M494.65 122a2.35 2.35 0 1 0 4.7 0a2.35 2.35 0 1 0 -4.7 0M496.45 122.04a2.35 2.35 0 1 0 4.7 0a2.35 2.35 0 1 0 -4.7 0M498.25 119.14a2.35 2.35 0 1 0 4.7 0a2.35 2.35 0 1 0 -4.7 0M500.05 118.8a2.35 2.35 0 1 0 4.7 0a2.35 2.35 0 1 0 -4.7 0M502.35 117.54a2.35 2.35 0 1 0 4.7 0a2.35 2.35 0 1 0 -4.7 0M504.65 115a2.35 2.35 0 1 0 4.7 0a2.35 2.35 0 1 0 -4.7 0M506.95 113.68a2.35 2.35 0 1 0 4.7 0a2.35 2.35 0 1 0 -4.7 0M509.25 110.6a2.35 2.35 0 1 0 4.7 0a2.35 2.35 0 1 0 -4.7 0M510.95 109.22a2.35 2.35 0 1 0 4.7 0a2.35 2.35 0 1 0 -4.7 0M512.65 107a2.35 2.35 0 1 0 4.7 0a2.35 2.35 0 1 0 -4.7 0M514.65 105a2.35 2.35 0 1 0 4.7 0a2.35 2.35 0 1 0 -4.7 0M517.65 101.5a2.35 2.35 0 1 0 4.7 0a2.35 2.35 0 1 0 -4.7 0M520.25 98a2.35 2.35 0 1 0 4.7 0a2.35 2.35 0 1 0 -4.7 0M522.75 91.5a2.35 2.35 0 1 0 4.7 0a2.35 2.35 0 1 0 -4.7 0M524.85 87.4a2.35 2.35 0 1 0 4.7 0a2.35 2.35 0 1 0 -4.7 0M526.65 81a2.35 2.35 0 1 0 4.7 0a2.35 2.35 0 1 0 -4.7 0M527.95 72a2.35 2.35 0 1 0 4.7 0a2.35 2.35 0 1 0 -4.7 0M529.15 65.6a2.35 2.35 0 1 0 4.7 0a2.35 2.35 0 1 0 -4.7 0M530.45 56.7a2.35 2.35 0 1 0 4.7 0a2.35 2.35 0 1 0 -4.7 0M531.75 51.5a2.35 2.35 0 1 0 4.7 0a2.35 2.35 0 1 0 -4.7 0M534.35 49a2.35 2.35 0 1 0 4.7 0a2.35 2.35 0 1 0 -4.7 0M534.85 84.9a2.35 2.35 0 1 0 4.7 0a2.35 2.35 0 1 0 -4.7 0M537.15 150.5a2.35 2.35 0 1 0 4.7 0a2.35 2.35 0 1 0 -4.7 0M538.85 212.4a2.35 2.35 0 1 0 4.7 0a2.35 2.35 0 1 0 -4.7 0M541.05 208.4a2.35 2.35 0 1 0 4.7 0a2.35 2.35 0 1 0 -4.7 0M542.75 184.2a2.35 2.35 0 1 0 4.7 0a2.35 2.35 0 1 0 -4.7 0M543.95 170.2a2.35 2.35 0 1 0 4.7 0a2.35 2.35 0 1 0 -4.7 0M545.95 162.2a2.35 2.35 0 1 0 4.7 0a2.35 2.35 0 1 0 -4.7 0M547.65 158.5a2.35 2.35 0 1 0 4.7 0a2.35 2.35 0 1 0 -4.7 0M549.15 156.1a2.35 2.35 0 1 0 4.7 0a2.35 2.35 0 1 0 -4.7 0M551.85 144.1a2.35 2.35 0 1 0 4.7 0a2.35 2.35 0 1 0 -4.7 0M553.75 164.2a2.35 2.35 0 1 0 4.7 0a2.35 2.35 0 1 0 -4.7 0M555.25 160.3a2.35 2.35 0 1 0 4.7 0a2.35 2.35 0 1 0 -4.7 0M557.65 159a2.35 2.35 0 1 0 4.7 0a2.35 2.35 0 1 0 -4.7 0M559.65 158.7a2.35 2.35 0 1 0 4.7 0a2.35 2.35 0 1 0 -4.7 0M562.25 161.4a2.35 2.35 0 1 0 4.7 0a2.35 2.35 0 1 0 -4.7 0M565.55 161.4a2.35 2.35 0 1 0 4.7 0a2.35 2.35 0 1 0 -4.7 0M567.65 160.4a2.35 2.35 0 1 0 4.7 0a2.35 2.35 0 1 0 -4.7 0M568.85 163a2.35 2.35 0 1 0 4.7 0a2.35 2.35 0 1 0 -4.7 0M571.65 164.4a2.35 2.35 0 1 0 4.7 0a2.35 2.35 0 1 0 -4.7 0M573.15 169.7a2.35 2.35 0 1 0 4.7 0a2.35 2.35 0 1 0 -4.7 0M575.65 170.5a2.35 2.35 0 1 0 4.7 0a2.35 2.35 0 1 0 -4.7 0M577.65 168a2.35 2.35 0 1 0 4.7 0a2.35 2.35 0 1 0 -4.7 0M579.75 166.5a2.35 2.35 0 1 0 4.7 0a2.35 2.35 0 1 0 -4.7 0M582.65 163a2.35 2.35 0 1 0 4.7 0a2.35 2.35 0 1 0 -4.7 0M585.75 160.4a2.35 2.35 0 1 0 4.7 0a2.35 2.35 0 1 0 -4.7 0M588.65 158.5a2.35 2.35 0 1 0 4.7 0a2.35 2.35 0 1 0 -4.7 0M591.85 156.4a2.35 2.35 0 1 0 4.7 0a2.35 2.35 0 1 0 -4.7 0M593.85 155.75a2.35 2.35 0 1 0 4.7 0a2.35 2.35 0 1 0 -4.7 0M595.85 154.45a2.35 2.35 0 1 0 4.7 0a2.35 2.35 0 1 0 -4.7 0M597.85 154.3a2.35 2.35 0 1 0 4.7 0a2.35 2.35 0 1 0 -4.7 0M600.65 152a2.35 2.35 0 1 0 4.7 0a2.35 2.35 0 1 0 -4.7 0M603.95 150.3a2.35 2.35 0 1 0 4.7 0a2.35 2.35 0 1 0 -4.7 0M606.65 149a2.35 2.35 0 1 0 4.7 0a2.35 2.35 0 1 0 -4.7 0M609.95 148.3a2.35 2.35 0 1 0 4.7 0a2.35 2.35 0 1 0 -4.7 0M612.15 147.5a2.35 2.35 0 1 0 4.7 0a2.35 2.35 0 1 0 -4.7 0M614.75 144.5a2.35 2.35 0 1 0 4.7 0a2.35 2.35 0 1 0 -4.7 0M617.65 144.5a2.35 2.35 0 1 0 4.7 0a2.35 2.35 0 1 0 -4.7 0M619.4 143.91a2.35 2.35 0 1 0 4.7 0a2.35 2.35 0 1 0 -4.7 0M621.15 143.44a2.35 2.35 0 1 0 4.7 0a2.35 2.35 0 1 0 -4.7 0M622.9 142.85a2.35 2.35 0 1 0 4.7 0a2.35 2.35 0 1 0 -4.7 0M624.65 143.8a2.35 2.35 0 1 0 4.7 0a2.35 2.35 0 1 0 -4.7 0M626.32 143.76a2.35 2.35 0 1 0 4.7 0a2.35 2.35 0 1 0 -4.7 0M627.98 142.71a2.35 2.35 0 1 0 4.7 0a2.35 2.35 0 1 0 -4.7 0M629.65 143a2.35 2.35 0 1 0 4.7 0a2.35 2.35 0 1 0 -4.7 0M631.65 143.64a2.35 2.35 0 1 0 4.7 0a2.35 2.35 0 1 0 -4.7 0M633.65 141.48a2.35 2.35 0 1 0 4.7 0a2.35 2.35 0 1 0 -4.7 0M635.65 142.5a2.35 2.35 0 1 0 4.7 0a2.35 2.35 0 1 0 -4.7 0M637.32 143.22a2.35 2.35 0 1 0 4.7 0a2.35 2.35 0 1 0 -4.7 0M638.98 142.34a2.35 2.35 0 1 0 4.7 0a2.35 2.35 0 1 0 -4.7 0M640.65 141.5a2.35 2.35 0 1 0 4.7 0a2.35 2.35 0 1 0 -4.7 0M642.65 142.17a2.35 2.35 0 1 0 4.7 0a2.35 2.35 0 1 0 -4.7 0M644.65 141.66a2.35 2.35 0 1 0 4.7 0a2.35 2.35 0 1 0 -4.7 0M646.65 140.2a2.35 2.35 0 1 0 4.7 0a2.35 2.35 0 1 0 -4.7 0M648.65 140.84a2.35 2.35 0 1 0 4.7 0a2.35 2.35 0 1 0 -4.7 0M650.65 139.6a2.35 2.35 0 1 0 4.7 0a2.35 2.35 0 1 0 -4.7 0M652.65 139a2.35 2.35 0 1 0 4.7 0a2.35 2.35 0 1 0 -4.7 0M654.32 137.4a2.35 2.35 0 1 0 4.7 0a2.35 2.35 0 1 0 -4.7 0M655.98 138.97a2.35 2.35 0 1 0 4.7 0a2.35 2.35 0 1 0 -4.7 0M657.65 138a2.35 2.35 0 1 0 4.7 0a2.35 2.35 0 1 0 -4.7 0M659.65 136.91a2.35 2.35 0 1 0 4.7 0a2.35 2.35 0 1 0 -4.7 0M661.65 137.01a2.35 2.35 0 1 0 4.7 0a2.35 2.35 0 1 0 -4.7 0M663.65 137.3a2.35 2.35 0 1 0 4.7 0a2.35 2.35 0 1 0 -4.7 0M665.32 137.49a2.35 2.35 0 1 0 4.7 0a2.35 2.35 0 1 0 -4.7 0M666.98 136.9a2.35 2.35 0 1 0 4.7 0a2.35 2.35 0 1 0 -4.7 0M668.65 136.6a2.35 2.35 0 1 0 4.7 0a2.35 2.35 0 1 0 -4.7 0M670.32 136.04a2.35 2.35 0 1 0 4.7 0a2.35 2.35 0 1 0 -4.7 0M671.98 137.07a2.35 2.35 0 1 0 4.7 0a2.35 2.35 0 1 0 -4.7 0M673.65 135.6a2.35 2.35 0 1 0 4.7 0a2.35 2.35 0 1 0 -4.7 0M675.32 135.46a2.35 2.35 0 1 0 4.7 0a2.35 2.35 0 1 0 -4.7 0M676.98 134.32a2.35 2.35 0 1 0 4.7 0a2.35 2.35 0 1 0 -4.7 0M678.65 134.3a2.35 2.35 0 1 0 4.7 0a2.35 2.35 0 1 0 -4.7 0"/>
<polyline fill="none" stroke="#ff7f0e" stroke-width="1.5" stroke-linejoin="round" points="423.2,158 424.5,160.5 426,160 428,160 430,157.5 432,155 434,152.5 436,150.5 438,148.5 440,146.5 443,144.5 446,142.5 449,141 451,139.61 453,139.5 454.67,139.77 456.33,138.11 458,137.5 460,137.57 462,135.78 464,135.5 466,134.21 468,134.59 470,134 471.67,134.49 473.33,132.48 475,133 476.67,133.53 478.33,133.63 480,132.3 481.67,132.83 483.33,132.61 485,131.5 486.67,129.05 488.33,129.5 490,128 491.67,127.78 493.33,124.5 495,124.5 496.85,122.73 498.7,121.55 500.55,121.05 502.4,119.8 504.7,118.45 507,117.5 508.77,116.26 510.53,115.89 512.3,114 514.15,111.45 516,111.5 517.85,109.19 519.7,109.2 523,107 525,104.53 527,104 529.9,101 532.9,97 535.5,93.5 538.7,89.6 540.4,86.3 542,82.2 543.6,76.4 544.5,71.5 545.8,66.5 547.8,61.6 549.6,100 550.4,136.5 552,120 553.5,85 554.7,74.2 555.4,90 556.9,104 558.2,114.3 560.3,122.2 562,123.3 562.5,136 563.6,145 564.2,146.4 566.4,150 567.9,146.6 570,150.3 572,155.37 574,162.4 576,166.33 578,172.5 580.05,177.78 582.1,180.6 584.4,183 586.1,190.6 588.1,192.7 590,185 592.2,178.5 594.2,175.42 596.2,170.5 598.2,166.37 600.2,164.4 603,162 606.3,160.4 609.4,157 612.3,156.4 614.5,154 617.1,148.6 620,150 621.75,149.66 623.5,148.82 625.25,148.47 627,148.6 628.67,148.01 630.33,148.58 632,148 634,148.06 636,147.3 638,147.5 639.67,146.2 641.33,146.05 643,146 645,144.69 647,145.48 649,145 651,145 653,143.56 655,143.3 656.67,141.67 658.33,141.4 660,141.7 662,140.9 664,141.04 666,140.3 667.67,140.77 669.33,139.46 671,139.5 672.67,139.88 674.33,139.02 676,138.3 677.67,137.76 679.33,137.23 681,137.2"/><path fill="#ff7f0e" d="M423.2 155L426 160.2L420.4 160.2ZM424.5 157.5L427.3 162.7L421.7 162.7ZM426 157L428.8 162.2L423.2 162.2ZM428 157L430.8 162.2L425.2 162.2ZM430 154.5L432.8 159.7L427.2 159.7ZM432 152L434.8 157.2L429.2 157.2ZM434 149.5L436.8 154.7L431.2 154.7ZM436 147.5L438.8 152.7L433.2 152.7ZM438 145.5L440.8 150.7L435.2 150.7ZM440 143.5L442.8 148.7L437.2 148.7ZM443 141.5L445.8 146.7L440.2 146.7ZM446 139.5L448.8 144.7L443.2 144.7ZM449 138L451.8 143.2L446.2 143.2ZM451 136.61L453.8 141.81L448.2 141.81ZM453 136.5L455.8 141.7L450.2 141.7ZM454.67 136.77L457.47 141.97L451.87 141.97ZM456.33 135.11L459.13 140.31L453.53 140.31ZM458 134.5L460.8 139.7L455.2 139.7ZM460 134.57L462.8 139.77L457.2 139.77ZM462 132.78L464.8 137.98L459.2 137.98ZM464 132.5L466.8 137.7L461.2 137.7ZM466 131.21L468.8 136.41L463.2 136.41ZM468 131.59L470.8 136.79L465.2 136.79ZM470 131L472.8 136.2L467.2 136.2ZM471.67 131.49L474.47 136.69L468.87 136.69ZM473.33 129.48L476.13 134.68L470.53 134.68ZM475 130L477.8 135.2L472.2 135.2ZM476.67 130.53L479.47 135.73L473.87 135.73ZM478.33 130.63L481.13 135.83L475.53 135.83ZM480 129.3L482.8 134.5L477.2 134.5ZM481.67 129.83L484.47 135.03L478.87 135.03ZM483.33 129.61L486.13 134.81L480.53 134.81ZM485 128.5L487.8 133.7L482.2 133.7ZM486.67 126.05L489.47 131.25L483.87 131.25ZM488.33 126.5L491.13 131.7L485.53 131.7ZM490 125L492.8 130.2L487.2 130.2ZM491.67 124.78L494.47 129.98L488.87 129.98ZM493.33 121.5L496.13 126.7L490.53 126.7ZM495 121.5L497.8 126.7L492.2 126.7ZM496.85 119.73L499.65 124.93L494.05 124.93ZM498.7 118.55L501.5 123.75L495.9 123.75ZM500.55 118.05L503.35 123.25L497.75 123.25ZM502.4 116.8L505.2 122L499.6 122ZM504.7 115.45L507.5 120.65L501.9 120.65ZM507 114.5L509.8 119.7L504.2 119.7ZM508.77 113.26L511.57 118.46L505.97 118.46ZM510.53 112.89L513.33 118.09L507.73 118.09ZM512.3 111L515.1 116.2L509.5 116.2ZM514.15 108.45L516.95 113.65L511.35 113.65ZM516 108.5L518.8 113.7L513.2 113.7ZM517.85 106.19L520.65 111.39L515.05 111.39ZM519.7 106.2L522.5 111.4L516.9 111.4ZM523 104L525.8 109.2L520.2 109.2ZM525 101.53L527.8 106.73L522.2 106.73ZM527 101L529.8 106.2L524.2 106.2ZM529.9 98L532.7 103.2L527.1 103.2ZM532.9 94L535.7 99.2L530.1 99.2ZM535.5 90.5L538.3 95.7L532.7 95.7ZM538.7 86.6L541.5 91.8L535.9 91.8ZM540.4 83.3L543.2 88.5L537.6 88.5ZM542 79.2L544.8 84.4L539.2 84.4ZM543.6 73.4L546.4 78.6L540.8 78.6ZM544.5 68.5L547.3 73.7L541.7 73.7ZM545.8 63.5L548.6 68.7L543 68.7ZM547.8 58.6L550.6 63.8L545 63.8ZM549.6 97L552.4 102.2L546.8 102.2ZM550.4 133.5L553.2 138.7L547.6 138.7ZM552 117L554.8 122.2L549.2 122.2ZM553.5 82L556.3 87.2L550.7 87.2ZM554.7 71.2L557.5 76.4L551.9 76.4ZM555.4 87L558.2 92.2L552.6 92.2ZM556.9 101L559.7 106.2L554.1 106.2ZM558.2 111.3L561 116.5L555.4 116.5ZM560.3 119.2L563.1 124.4L557.5 124.4ZM562 120.3L564.8 125.5L559.2 125.5ZM562.5 133L565.3 138.2L559.7 138.2ZM563.6 142L566.4 147.2L560.8 147.2ZM564.2 143.4L567 148.6L561.4 148.6ZM566.4 147L569.2 152.2L563.6 152.2ZM567.9 143.6L570.7 148.8L565.1 148.8ZM570 147.3L572.8 152.5L567.2 152.5ZM572 152.37L574.8 157.57L569.2 157.57ZM574 159.4L576.8 164.6L571.2 164.6ZM576 163.33L578.8 168.53L573.2 168.53ZM578 169.5L580.8 174.7L575.2 174.7ZM580.05 174.78L582.85 179.98L577.25 179.98ZM582.1 177.6L584.9 182.8L579.3 182.8ZM584.4 180L587.2 185.2L581.6 185.2ZM586.1 187.6L588.9 192.8L583.3 192.8ZM588.1 189.7L590.9 194.9L585.3 194.9ZM590 182L592.8 187.2L587.2 187.2ZM592.2 175.5L595 180.7L589.4 180.7ZM594.2 172.42L597 177.62L591.4 177.62ZM596.2 167.5L599 172.7L593.4 172.7ZM598.2 163.37L601 168.57L595.4 168.57ZM600.2 161.4L603 166.6L597.4 166.6ZM603 159L605.8 164.2L600.2 164.2ZM606.3 157.4L609.1 162.6L603.5 162.6ZM609.4 154L612.2 159.2L606.6 159.2ZM612.3 153.4L615.1 158.6L609.5 158.6ZM614.5 151L617.3 156.2L611.7 156.2ZM617.1 145.6L619.9 150.8L614.3 150.8ZM620 147L622.8 152.2L617.2 152.2ZM621.75 146.66L624.55 151.86L618.95 151.86ZM623.5 145.82L626.3 151.02L620.7 151.02ZM625.25 145.47L628.05 150.67L622.45 150.67ZM627 145.6L629.8 150.8L624.2 150.8ZM628.67 145.01L631.47 150.21L625.87 150.21ZM630.33 145.58L633.13 150.78L627.53 150.78ZM632 145L634.8 150.2L629.2 150.2ZM634 145.06L636.8 150.26L631.2 150.26ZM636 144.3L638.8 149.5L633.2 149.5ZM638 144.5L640.8 149.7L635.2 149.7ZM639.67 143.2L642.47 148.4L636.87 148.4ZM641.33 143.05L644.13 148.25L638.53 148.25ZM643 143L645.8 148.2L640.2 148.2ZM645 141.69L647.8 146.89L642.2 146.89ZM647 142.48L649.8 147.68L644.2 147.68ZM649 142L651.8 147.2L646.2 147.2ZM651 142L653.8 147.2L648.2 147.2ZM653 140.56L655.8 145.76L650.2 145.76ZM655 140.3L657.8 145.5L652.2 145.5ZM656.67 138.67L659.47 143.87L653.87 143.87ZM658.33 138.4L661.13 143.6L655.53 143.6ZM660 138.7L662.8 143.9L657.2 143.9ZM662 137.9L664.8 143.1L659.2 143.1ZM664 138.04L666.8 143.24L661.2 143.24ZM666 137.3L668.8 142.5L663.2 142.5ZM667.67 137.77L670.47 142.97L664.87 142.97ZM669.33 136.46L672.13 141.66L666.53 141.66ZM671 136.5L673.8 141.7L668.2 141.7ZM672.67 136.88L675.47 142.08L669.87 142.08ZM674.33 136.02L677.13 141.22L671.53 141.22ZM676 135.3L678.8 140.5L673.2 140.5ZM677.67 134.76L680.47 139.96L674.87 139.96ZM679.33 134.23L682.13 139.43L676.53 139.43ZM681 134.2L683.8 139.4L678.2 139.4Z"/>
<polyline fill="none" stroke="#2ca02c" stroke-width="1.5" stroke-linejoin="round" points="423.2,154 424.5,156.5 426,156 427.5,155.5 429,153.5 430.5,153 432,151 433.5,150 435,148 437.5,146 440,144 442.5,142.5 444.8,141.3 446.4,139.8 449.5,138 451.15,137.24 452.8,136.5 456,135.5 459.2,134.5 462,133.5 464,133.88 466,132.8 468,132.11 470,132 471.67,132.3 473.33,131.06 475,130.8 476.67,129.55 478.33,130.26 480,129.8 482.35,130.1 484.7,129 486.35,127.21 488,128.5 490,127.88 492,127.8 494,126.38 496,125.5 497.65,126.02 499.3,123.8 502,121.5 505,119.5 506.75,120.32 508.5,117.55 510.25,118.68 512,116.5 513.92,116.92 515.85,114.39 517.78,114.5 519.7,114 521.53,111.77 523.35,113.38 525.17,111.96 527,110.5 528.83,111.09 530.65,109.95 532.47,108.7 534.3,107.3 536.2,106.87 538.1,105 540,103.5 542.3,100.52 544.6,100.4 546.37,99.08 548.13,95.35 549.9,95.5 551.3,100 552.6,106.5 554,93.8 556.5,90 559.1,83.6 560.4,78.5 561.4,81.3 563.1,75.9 564.6,70 566.1,62.7 567.5,53.9 569.7,47.3 571.2,46.6 572.2,60.5 574,79 575.5,80 577,89 579,77 581,96 583,104 585,107.3 586.9,150.3 588.55,153.07 590.2,158.4 592.2,170.5 594.2,194.7 596.2,212.8 598.2,194.7 600.2,182.6 602.3,174.5 604.3,173.49 606.3,170.5 609.4,164 612,163.5 614.4,162.4 616,159.6 617.6,157.6 618.2,153 620.4,161.8 622.2,157.76 624,157 627,155.2 628.67,153.83 630.33,153.96 632,155.5 634,156.77 636,154.14 638,155.2 639.67,152.92 641.33,155.3 643,153.5 645,151.6 647,153.67 649,151.9 651,151.57 653,150 655.35,149.96 657.7,147.5 659.8,148.46 661.9,146.45 664,145.5 665.75,145.95 667.5,142.58 669.25,144.59 671,143 672.67,142.54 674.33,142.77 676,141.5 677.67,139.52 679.33,141.26 681,139.8"/><path fill="#2ca02c" d="M420.85 151.65h4.7v4.7h-4.7ZM422.15 154.15h4.7v4.7h-4.7ZM423.65 153.65h4.7v4.7h-4.7ZM425.15 153.15h4.7v4.7h-4.7ZM426.65 151.15h4.7v4.7h-4.7ZM428.15 150.65h4.7v4.7h-4.7ZM429.65 148.65h4.7v4.7h-4.7ZM431.15 147.65h4.7v4.7h-4.7ZM432.65 145.65h4.7v4.7h-4.7ZM435.15 143.65h4.7v4.7h-4.7ZM437.65 141.65h4.7v4.7h-4.7ZM440.15 140.15h4.7v4.7h-4.7ZM442.45 138.95h4.7v4.7h-4.7ZM444.05 137.45h4.7v4.7h-4.7ZM447.15 135.65h4.7v4.7h-4.7ZM448.8 134.89h4.7v4.7h-4.7ZM450.45 134.15h4.7v4.7h-4.7ZM453.65 133.15h4.7v4.7h-4.7ZM456.85 132.15h4.7v4.7h-4.7ZM459.65 131.15h4.7v4.7h-4.7ZM461.65 131.53h4.7v4.7h-4.7ZM463.65 130.45h4.7v4.7h-4.7ZM465.65 129.76h4.7v4.7h-4.7ZM467.65 129.65h4.7v4.7h-4.7ZM469.32 129.95h4.7v4.7h-4.7ZM470.98 128.71h4.7v4.7h-4.7ZM472.65 128.45h4.7v4.7h-4.7ZM474.32 127.2h4.7v4.7h-4.7ZM475.98 127.91h4.7v4.7h-4.7ZM477.65 127.45h4.7v4.7h-4.7ZM480 127.75h4.7v4.7h-4.7ZM482.35 126.65h4.7v4.7h-4.7ZM484 124.86h4.7v4.7h-4.7ZM485.65 126.15h4.7v4.7h-4.7ZM487.65 125.53h4.7v4.7h-4.7ZM489.65 125.45h4.7v4.7h-4.7ZM491.65 124.03h4.7v4.7h-4.7ZM493.65 123.15h4.7v4.7h-4.7ZM495.3 123.67h4.7v4.7h-4.7ZM496.95 121.45h4.7v4.7h-4.7ZM499.65 119.15h4.7v4.7h-4.7ZM502.65 117.15h4.7v4.7h-4.7ZM504.4 117.97h4.7v4.7h-4.7ZM506.15 115.2h4.7v4.7h-4.7ZM507.9 116.33h4.7v4.7h-4.7ZM509.65 114.15h4.7v4.7h-4.7ZM511.57 114.57h4.7v4.7h-4.7ZM513.5 112.04h4.7v4.7h-4.7ZM515.43 112.15h4.7v4.7h-4.7ZM517.35 111.65h4.7v4.7h-4.7ZM519.18 109.42h4.7v4.7h-4.7ZM521 111.03h4.7v4.7h-4.7ZM522.82 109.61h4.7v4.7h-4.7ZM524.65 108.15h4.7v4.7h-4.7ZM526.48 108.74h4.7v4.7h-4.7ZM528.3 107.6h4.7v4.7h-4.7ZM530.12 106.35h4.7v4.7h-4.7ZM531.95 104.95h4.7v4.7h-4.7ZM533.85 104.52h4.7v4.7h-4.7ZM535.75 102.65h4.7v4.7h-4.7ZM537.65 101.15h4.7v4.7h-4.7ZM539.95 98.17h4.7v4.7h-4.7ZM542.25 98.05h4.7v4.7h-4.7ZM544.02 96.73h4.7v4.7h-4.7ZM545.78 93h4.7v4.7h-4.7ZM547.55 93.15h4.7v4.7h-4.7ZM548.95 97.65h4.7v4.7h-4.7ZM550.25 104.15h4.7v4.7h-4.7ZM551.65 91.45h4.7v4.7h-4.7ZM554.15 87.65h4.7v4.7h-4.7ZM556.75 81.25h4.7v4.7h-4.7ZM558.05 76.15h4.7v4.7h-4.7ZM559.05 78.95h4.7v4.7h-4.7ZM560.75 73.55h4.7v4.7h-4.7ZM562.25 67.65h4.7v4.7h-4.7ZM563.75 60.35h4.7v4.7h-4.7ZM565.15 51.55h4.7v4.7h-4.7ZM567.35 44.95h4.7v4.7h-4.7ZM568.85 44.25h4.7v4.7h-4.7ZM569.85 58.15h4.7v4.7h-4.7ZM571.65 76.65h4.7v4.7h-4.7ZM573.15 77.65h4.7v4.7h-4.7ZM574.65 86.65h4.7v4.7h-4.7ZM576.65 74.65h4.7v4.7h-4.7ZM578.65 93.65h4.7v4.7h-4.7ZM580.65 101.65h4.7v4.7h-4.7ZM582.65 104.95h4.7v4.7h-4.7ZM584.55 147.95h4.7v4.7h-4.7ZM586.2 150.72h4.7v4.7h-4.7ZM587.85 156.05h4.7v4.7h-4.7ZM589.85 168.15h4.7v4.7h-4.7ZM591.85 192.35h4.7v4.7h-4.7ZM593.85 210.45h4.7v4.7h-4.7ZM595.85 192.35h4.7v4.7h-4.7ZM597.85 180.25h4.7v4.7h-4.7ZM599.95 172.15h4.7v4.7h-4.7ZM601.95 171.14h4.7v4.7h-4.7ZM603.95 168.15h4.7v4.7h-4.7ZM607.05 161.65h4.7v4.7h-4.7ZM609.65 161.15h4.7v4.7h-4.7ZM612.05 160.05h4.7v4.7h-4.7ZM613.65 157.25h4.7v4.7h-4.7ZM615.25 155.25h4.7v4.7h-4.7ZM615.85 150.65h4.7v4.7h-4.7ZM618.05 159.45h4.7v4.7h-4.7ZM619.85 155.41h4.7v4.7h-4.7ZM621.65 154.65h4.7v4.7h-4.7ZM624.65 152.85h4.7v4.7h-4.7ZM626.32 151.48h4.7v4.7h-4.7ZM627.98 151.61h4.7v4.7h-4.7ZM629.65 153.15h4.7v4.7h-4.7ZM631.65 154.42h4.7v4.7h-4.7ZM633.65 151.79h4.7v4.7h-4.7ZM635.65 152.85h4.7v4.7h-4.7ZM637.32 150.57h4.7v4.7h-4.7ZM638.98 152.95h4.7v4.7h-4.7ZM640.65 151.15h4.7v4.7h-4.7ZM642.65 149.25h4.7v4.7h-4.7ZM644.65 151.32h4.7v4.7h-4.7ZM646.65 149.55h4.7v4.7h-4.7ZM648.65 149.22h4.7v4.7h-4.7ZM650.65 147.65h4.7v4.7h-4.7ZM653 147.61h4.7v4.7h-4.7ZM655.35 145.15h4.7v4.7h-4.7ZM657.45 146.11h4.7v4.7h-4.7ZM659.55 144.1h4.7v4.7h-4.7ZM661.65 143.15h4.7v4.7h-4.7ZM663.4 143.6h4.7v4.7h-4.7ZM665.15 140.23h4.7v4.7h-4.7ZM666.9 142.24h4.7v4.7h-4.7ZM668.65 140.65h4.7v4.7h-4.7ZM670.32 140.19h4.7v4.7h-4.7ZM671.98 140.42h4.7v4.7h-4.7ZM673.65 139.15h4.7v4.7h-4.7ZM675.32 137.17h4.7v4.7h-4.7ZM676.98 138.91h4.7v4.7h-4.7ZM678.65 137.45h4.7v4.7h-4.7Z"/>
<line x1="536.9" y1="237.0" x2="536.9" y2="30.5" stroke="#1f77b4" stroke-width="2.1" stroke-dasharray="2 4.085"/>
<line x1="556.6" y1="237.0" x2="556.6" y2="30.5" stroke="#ff7f0e" stroke-width="2.1" stroke-dasharray="2 4.085"/>
<line x1="576.4" y1="237.0" x2="576.4" y2="30.5" stroke="#2ca02c" stroke-width="2.1" stroke-dasharray="2 4.085"/>
</g>
<rect x="423.0" y="30.5" width="258.20000000000005" height="207.0" fill="none" stroke="#000" stroke-width="0.85"/><path d="M423 237.5v3.6M487.5 237.5v3.6M552.5 237.5v3.6M616.5 237.5v3.6M681.2 237.5v3.6M423.0 237.5h-3.6M423.0 196.2h-3.6M423.0 154.5h-3.6M423.0 113.5h-3.6M423.0 71.5h-3.6M423.0 30.5h-3.6" stroke="#000" stroke-width="0.85"/>
<g font-family="Liberation Sans, sans-serif" font-size="10.8" fill="#000" style="filter:grayscale(1)">
<text transform="translate(65.7,252.2) scale(1.16,1)" text-anchor="middle">1</text><text transform="translate(130.7,252.2) scale(1.16,1)" text-anchor="middle">2</text><text transform="translate(194.7,252.2) scale(1.16,1)" text-anchor="middle">3</text><text transform="translate(259.7,252.2) scale(1.16,1)" text-anchor="middle">4</text><text transform="translate(323.7,252.2) scale(1.16,1)" text-anchor="middle">5</text><text transform="translate(59.4,241.9) scale(1.16,1)" text-anchor="end">0</text><text transform="translate(59.4,200.4) scale(1.16,1)" text-anchor="end">1000</text><text transform="translate(59.4,158.9) scale(1.16,1)" text-anchor="end">2000</text><text transform="translate(59.4,117.9) scale(1.16,1)" text-anchor="end">3000</text><text transform="translate(59.4,75.9) scale(1.16,1)" text-anchor="end">4000</text><text transform="translate(59.4,34.9) scale(1.16,1)" text-anchor="end">5000</text>
<text transform="translate(423.2,252.2) scale(1.16,1)" text-anchor="middle">1</text><text transform="translate(487.7,252.2) scale(1.16,1)" text-anchor="middle">2</text><text transform="translate(552.7,252.2) scale(1.16,1)" text-anchor="middle">3</text><text transform="translate(616.7,252.2) scale(1.16,1)" text-anchor="middle">4</text><text transform="translate(681.4,252.2) scale(1.16,1)" text-anchor="middle">5</text><text transform="translate(416.6,241.9) scale(1.16,1)" text-anchor="end">−3000</text><text transform="translate(416.6,200.6) scale(1.16,1)" text-anchor="end">−2000</text><text transform="translate(416.6,158.9) scale(1.16,1)" text-anchor="end">−1000</text><text transform="translate(416.6,117.9) scale(1.16,1)" text-anchor="end">0</text><text transform="translate(416.6,75.9) scale(1.16,1)" text-anchor="end">1000</text><text transform="translate(416.6,34.9) scale(1.16,1)" text-anchor="end">2000</text>
</g>
<g font-family="Liberation Sans, sans-serif" font-size="12.9" fill="#000" style="filter:grayscale(1)">
<text transform="translate(194.5,268.8) scale(1.143,1)" text-anchor="middle">Normalized frequency [<tspan font-style="italic">ω</tspan>/Ω<tspan font-size="9" dy="2">ce</tspan><tspan dy="-2">]</tspan></text>
<text transform="translate(552.1,268.8) scale(1.143,1)" text-anchor="middle">Normalized frequency [<tspan font-style="italic">ω</tspan>/Ω<tspan font-size="9" dy="2">ce</tspan><tspan dy="-2">]</tspan></text>
<text transform="translate(24.0,133.2) rotate(-90) scale(1.118,1)" text-anchor="middle">Resistance [Ω]</text>
<text transform="translate(371.6,133.5) rotate(-90) scale(1.115,1)" text-anchor="middle">Reactance [Ω]</text>
</g>
<g style="filter:grayscale(1)"><text x="0.5" y="14.7" font-family="Liberation Serif, serif" font-size="20" fill="#000">(a)</text>
<text x="368.5" y="15.8" font-family="Liberation Serif, serif" font-size="22" fill="#000">(b)</text></g>
</svg>
</body></html>
